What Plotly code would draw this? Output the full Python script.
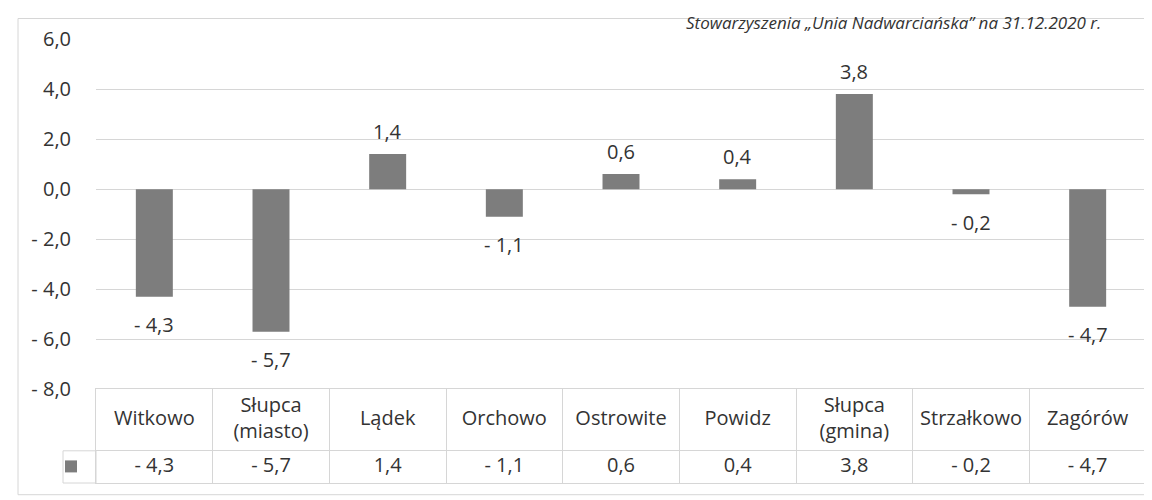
import plotly.graph_objects as go

# ---------------- data ----------------
categories = ["Witkowo", "Słupca (miasto)", "Lądek", "Orchowo", "Ostrowite",
              "Powidz", "Słupca (gmina)", "Strzałkowo", "Zagórów"]
header_labels = ["Witkowo", "Słupca<br>(miasto)", "Lądek", "Orchowo", "Ostrowite",
                 "Powidz", "Słupca<br>(gmina)", "Strzałkowo", "Zagórów"]
values = [-4.3, -5.7, 1.4, -1.1, 0.6, 0.4, 3.8, -0.2, -4.7]
y_tick_values = [-8, -6, -4, -2, 0, 2, 4, 6]
y_tick_labels = ["- 8,0", "- 6,0", "- 4,0", "- 2,0", "0,0", "2,0", "4,0", "6,0"]
source_note = "Stowarzyszenia „Unia Nadwarciańska” na 31.12.2020 r."


def fmt(v):
    s = f"{abs(v):.1f}".replace(".", ",")
    return ("- " + s) if v < 0 else s


value_labels = [fmt(v) for v in values]

# ---------------- style ----------------
FONT = "Open Sans"
TXT = "#333333"
BAR = "#7d7d7d"
GRID = "#d6d6d6"
FS = 20

W, H = 1152, 500
ML, MR, MT, MB = 88, 14, 31, 14
PW = W - ML - MR
PH = H - MT - MB
TABLE_TOP, ROW_SEP = 390, 453
table_frac = (H - MB - TABLE_TOP) / PH
sep_frac = (H - MB - ROW_SEP) / (H - MB - TABLE_TOP)


def px_x(p):
    return (p - ML) / PW


def px_y(p):
    return (H - MB - p) / PH


fig = go.Figure()

fig.add_trace(go.Bar(
    x=categories, y=values, name="", showlegend=True,
    marker=dict(color=BAR, line=dict(width=0)),
    xaxis="x", yaxis="y", hoverinfo="skip",
))

# data table under the chart
fig.add_trace(go.Scatter(
    x=categories, y=[(1 + sep_frac) / 2] * len(categories), mode="text",
    text=header_labels, textfont=dict(family=FONT, size=FS, color=TXT),
    xaxis="x2", yaxis="y2", showlegend=False, cliponaxis=False, hoverinfo="skip",
))
fig.add_trace(go.Scatter(
    x=categories, y=[sep_frac / 2] * len(categories), mode="text",
    text=value_labels, textfont=dict(family=FONT, size=FS, color=TXT),
    xaxis="x2", yaxis="y2", showlegend=False, cliponaxis=False, hoverinfo="skip",
))

# bar data labels
for c, v, lab in zip(categories, values, value_labels):
    fig.add_annotation(
        x=c, y=v, xref="x", yref="y", text=lab, showarrow=False,
        yshift=23 if v >= 0 else -28,
        font=dict(family=FONT, size=FS, color=TXT),
    )

# source note at the very top
fig.add_annotation(
    x=px_x(1095), y=px_y(0), xref="paper", yref="paper",
    xanchor="right", yanchor="top", showarrow=False,
    text=source_note,
    font=dict(family=FONT, size=17, color=TXT, style="italic"),
)

# legend-key cell and outer frame
fig.add_shape(type="rect", xref="paper", yref="paper",
              x0=px_x(55), x1=0, y0=0, y1=px_y(ROW_SEP),
              line=dict(color=GRID, width=1), fillcolor="rgba(0,0,0,0)", layer="below")
fig.add_shape(type="rect", xref="paper", yref="paper",
              x0=px_x(10), x1=px_x(1165), y0=px_y(498), y1=px_y(10),
              line=dict(color=GRID, width=1), fillcolor="rgba(0,0,0,0)", layer="below")

fig.update_layout(
    width=W, height=H,
    margin=dict(l=ML, r=MR, t=MT, b=MB, pad=0),
    paper_bgcolor="white", plot_bgcolor="white",
    font=dict(family=FONT, size=FS, color=TXT),
    bargap=0.683,
    showlegend=True,
    legend=dict(x=px_x(43), y=px_y(469), xanchor="left", yanchor="middle",
                bgcolor="rgba(0,0,0,0)", font=dict(size=10), itemwidth=30),
    xaxis=dict(domain=[0, 1], anchor="y", type="category",
               categoryorder="array", categoryarray=categories,
               showticklabels=False, showgrid=False, zeroline=False, showline=False),
    yaxis=dict(domain=[table_frac, 1], anchor="x", range=[-8, 6],
               tickvals=y_tick_values, ticktext=y_tick_labels,
               showgrid=True, gridcolor=GRID, gridwidth=1, zeroline=False,
               showline=False, ticks="", ticklabelstandoff=24,
               tickfont=dict(family=FONT, size=FS, color=TXT)),
    xaxis2=dict(domain=[0, 1], anchor="y2", matches="x", type="category",
                categoryorder="array", categoryarray=categories,
                tickson="boundaries", showgrid=True, gridcolor=GRID, gridwidth=1,
                showticklabels=False, ticks="", zeroline=False,
                showline=True, mirror=True, linecolor=GRID, linewidth=1),
    yaxis2=dict(domain=[0, table_frac], anchor="x2", range=[0, 1],
                tickvals=[sep_frac], showgrid=True, gridcolor=GRID, gridwidth=1,
                showticklabels=False, ticks="", zeroline=False,
                showline=True, mirror=True, linecolor=GRID, linewidth=1),
)

fig.write_html("out.html")
